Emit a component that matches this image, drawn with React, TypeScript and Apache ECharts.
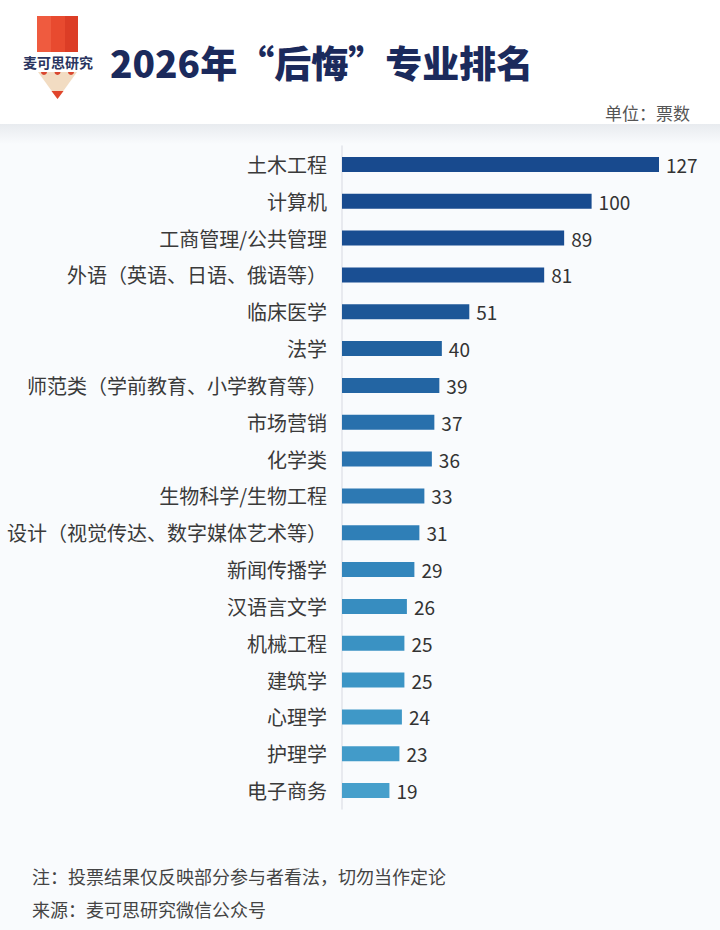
import React, { useEffect, useRef } from "react";
import * as echarts from "echarts";

const categories = [
  "土木工程",
  "计算机",
  "工商管理/公共管理",
  "外语（英语、日语、俄语等）",
  "临床医学",
  "法学",
  "师范类（学前教育、小学教育等）",
  "市场营销",
  "化学类",
  "生物科学/生物工程",
  "设计（视觉传达、数字媒体艺术等）",
  "新闻传播学",
  "汉语言文学",
  "机械工程",
  "建筑学",
  "心理学",
  "护理学",
  "电子商务",
];
const votes = [127, 100, 89, 81, 51, 40, 39, 37, 36, 33, 31, 29, 26, 25, 25, 24, 23, 19];
const barColors = [
  "#184a8e", "#184b8f", "#194d91", "#1a4f93", "#1d5797", "#21619f",
  "#2365a3", "#2870ac", "#2a73af", "#2d79b3", "#2f7fb7", "#3386bc",
  "#378dc0", "#3a92c3", "#3c95c5", "#3f98c7", "#429bc9", "#469fcb",
];
const titleText = "2026年“后悔”专业排名";
const unitText = "单位：票数";
const noteText = "注：投票结果仅反映部分参与者看法，切勿当作定论";
const sourceText = "来源：麦可思研究微信公众号";
const brandText = "麦可思研究";

const FONT = "'Noto Sans CJK SC', 'Noto Sans', sans-serif";

export default function App() {
  const ref = useRef<HTMLDivElement>(null);
  useEffect(() => {
    if (!ref.current) return;
    const chart = echarts.init(ref.current, null, { renderer: "svg" });
    chart.setOption({
      animation: false,
      backgroundColor: "#f9fbfd",
      graphic: [
        { type: "rect", z: -10, shape: { x: 0, y: 0, width: 720, height: 124 }, style: { fill: "#ffffff" } },
        {
          type: "rect", z: -10, shape: { x: 0, y: 124, width: 720, height: 20 },
          style: {
            fill: new echarts.graphic.LinearGradient(0, 0, 0, 1, [
              { offset: 0, color: "#e8ebef" },
              { offset: 1, color: "#f9fbfd" },
            ]),
          },
        },
        // pencil logo
        { type: "rect", shape: { x: 37, y: 16, width: 14, height: 36 }, style: { fill: "#ef5b3f" } },
        { type: "rect", shape: { x: 51, y: 16, width: 14, height: 36 }, style: { fill: "#e84a2f" } },
        { type: "rect", shape: { x: 65, y: 16, width: 13, height: 36 }, style: { fill: "#dc3d26" } },
        { type: "polygon", shape: { points: [[38, 72], [77, 72], [57.5, 99]] }, style: { fill: "#f2dcc2" } },
        { type: "polygon", shape: { points: [[51.5, 91], [63.5, 91], [57.5, 99]] }, style: { fill: "#e0452c" } },
        { type: "circle", shape: { cx: 44, cy: 72, r: 3 }, style: { fill: "#d9472f" } },
        { type: "circle", shape: { cx: 57.5, cy: 72, r: 3 }, style: { fill: "#d9472f" } },
        { type: "circle", shape: { cx: 71, cy: 72, r: 3 }, style: { fill: "#d9472f" } },
        { type: "rect", shape: { x: 22, y: 53, width: 72, height: 19 }, style: { fill: "#ffffff" } },
        {
          type: "text", x: 58, y: 62,
          style: { text: brandText, font: `bold 14px ${FONT}`, fill: "#2a3560", align: "center", verticalAlign: "middle" },
        },
        {
          type: "text", x: 110, y: 62,
          style: { text: titleText, font: `900 37px ${FONT}`, fill: "#1b2a5c", align: "left", verticalAlign: "middle" },
        },
        {
          type: "text", x: 690, y: 112,
          style: { text: unitText, font: `17px ${FONT}`, fill: "#555555", align: "right", verticalAlign: "middle" },
        },
        {
          type: "text", x: 32, y: 876,
          style: { text: noteText, font: `18px ${FONT}`, fill: "#444444", align: "left", verticalAlign: "middle" },
        },
        {
          type: "text", x: 32, y: 909,
          style: { text: sourceText, font: `18px ${FONT}`, fill: "#444444", align: "left", verticalAlign: "middle" },
        },
      ],
      grid: { left: 342, right: 61, top: 146, bottom: 121, containLabel: false },
      xAxis: {
        type: "value",
        min: 0,
        max: 127,
        show: false,
        splitLine: { show: false },
      },
      yAxis: {
        type: "category",
        inverse: true,
        data: categories,
        axisTick: { show: false },
        axisLine: { show: true, lineStyle: { color: "#e2e5ea", width: 1.5 } },
        axisLabel: { fontSize: 20, color: "#3a3a3a", margin: 15, fontFamily: FONT },
      },
      series: [
        {
          type: "bar",
          barWidth: 15,
          data: votes.map((v, i) => ({ value: v, itemStyle: { color: barColors[i] } })),
          label: {
            show: true,
            position: "right",
            distance: 7,
            fontSize: 19,
            color: "#333333",
            fontFamily: FONT,
          },
        },
      ],
    });
    return () => chart.dispose();
  }, []);
  return (
    <div
      ref={ref}
      style={{ position: "absolute", left: 0, top: 0, width: 720, height: 930 }}
    />
  );
}
